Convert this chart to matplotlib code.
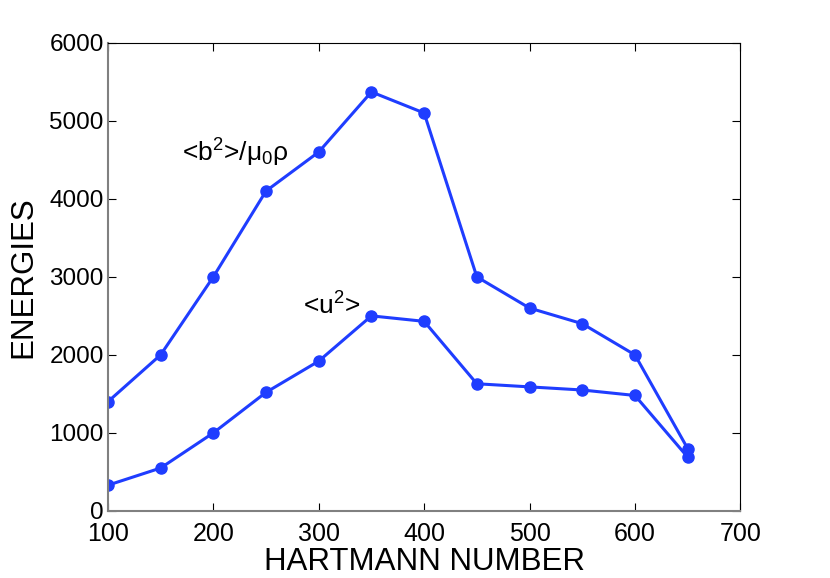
import matplotlib
matplotlib.use("Agg")
import matplotlib.pyplot as plt

hartmann = [100, 150, 200, 250, 300, 350, 400, 450, 500, 550, 600, 650]
b_energy = [1400, 2000, 3000, 4100, 4600, 5370, 5100, 3000, 2600, 2400, 2000, 800]
u_energy = [330, 550, 1000, 1520, 1920, 2500, 2430, 1630, 1590, 1550, 1480, 690]
xticks = [100, 200, 300, 400, 500, 600, 700]
yticks = [0, 1000, 2000, 3000, 4000, 5000, 6000]

plt.rcParams['font.family'] = ['Liberation Sans', 'DejaVu Sans']
plt.rcParams['mathtext.fontset'] = 'custom'
plt.rcParams['mathtext.rm'] = 'Liberation Sans'
plt.rcParams['mathtext.it'] = 'Liberation Sans'

fig = plt.figure(figsize=(8.3, 5.78), dpi=100)
ax = fig.add_axes([0.130, 0.116, 0.762, 0.810])

color = '#1f3dff'
ax.plot(hartmann, b_energy, '-o', color=color, lw=2.2, ms=8)
ax.plot(hartmann, u_energy, '-o', color=color, lw=2.2, ms=8)

ax.set_xlim(100, 700)
ax.set_ylim(0, 6000)
ax.set_xticks(xticks)
ax.set_yticks(yticks)
ax.set_xticklabels([str(t) for t in xticks], fontsize=18)
ax.set_yticklabels([str(t) for t in yticks], fontsize=17.5)
ax.tick_params(direction='in', top=True, right=True, length=6, width=0.8, pad=3, colors='black')
ax.tick_params(axis='x', pad=8)
for s in ['left', 'bottom']:
    ax.spines[s].set_color('#808080')
    ax.spines[s].set_linewidth(1.5)
for s in ['top', 'right']:
    ax.spines[s].set_color('black')
    ax.spines[s].set_linewidth(0.8)

ax.set_xlabel('HARTMANN NUMBER', fontsize=22.5, labelpad=1)
ax.set_ylabel('ENERGIES', fontsize=22.5, labelpad=8)

ax.text(170, 4474, r'<b$^{2}$>/$\mu_{0}$$\rho$', fontsize=19, va='baseline', ha='left')
ax.text(285, 2513, r'<u$^{2}$>', fontsize=19, va='baseline', ha='left')

fig.savefig('out.png', dpi=100)
